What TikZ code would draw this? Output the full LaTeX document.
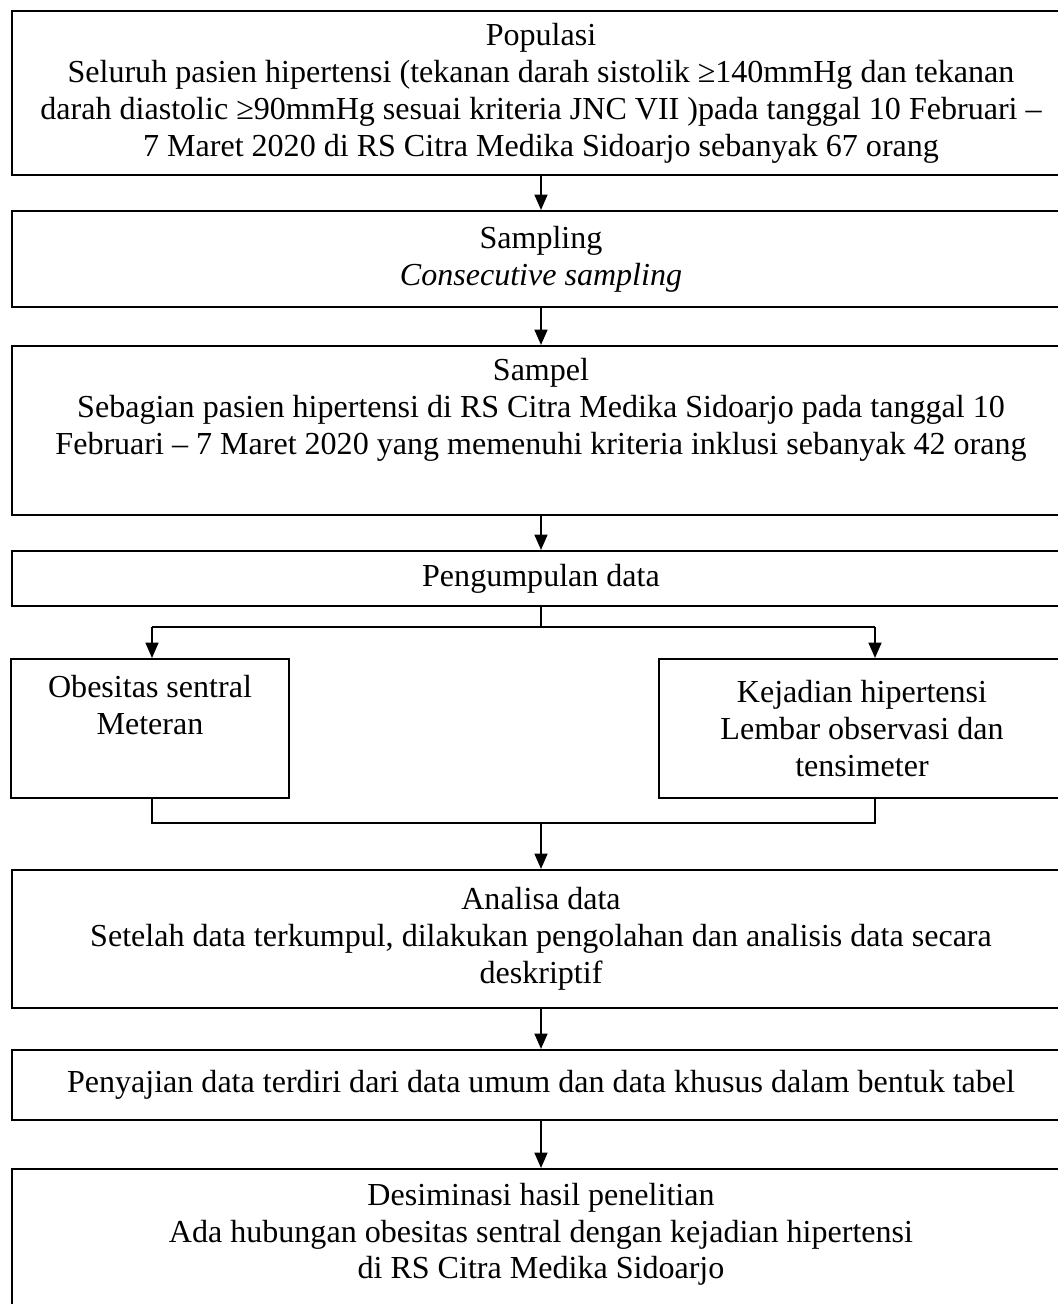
\documentclass[tikz,border=0pt]{standalone}
\usepackage{fontspec}
\setmainfont{Liberation Serif}
\usepackage{tikz}
\usetikzlibrary{arrows.meta}

\tikzset{
  kotak/.style={draw, line width=0.8pt, align=center, inner sep=2pt, anchor=north,
    minimum width=412.6pt, font=\fontsize{12.5}{14.4}\selectfont},
  panah/.style={-{Triangle[length=6pt,width=5pt]}, line width=0.8pt},
  garis/.style={line width=0.8pt}
}

\begin{document}
\begin{tikzpicture}[x=0.39pt,y=-0.39pt]
\useasboundingbox (0,0) rectangle (1057,1304);

\node [kotak, minimum height=64pt] (populasi) at (541,10) {Populasi\\ Seluruh pasien hipertensi (tekanan darah sistolik ≥140mmHg dan tekanan\\ darah diastolic ≥90mmHg sesuai kriteria JNC VII )pada tanggal 10 Februari –\\ 7 Maret 2020 di RS Citra Medika Sidoarjo sebanyak 67 orang};
\node [kotak, minimum height=37.4pt] (sampling) at (541,210) {Sampling\\ \textit{Consecutive sampling}};
\node [kotak, minimum height=65.9pt] (sampel) at (541,345) {Sampel\\ Sebagian pasien hipertensi di RS Citra Medika Sidoarjo pada tanggal 10\\ Februari – 7 Maret 2020 yang memenuhi kriteria inklusi sebanyak 42 orang\\ \strut};
\node [kotak, minimum height=21.5pt] (kumpul) at (541,550) {Pengumpulan data};

\node [kotak, minimum width=108.4pt, minimum height=54.2pt] (obesitas) at (150,658) {Obesitas sentral\\ Meteran\\ \strut};
\node [kotak, minimum width=158.3pt, minimum height=54.2pt] (kejadian) at (862,658) {Kejadian hipertensi\\ Lembar observasi dan\\ tensimeter};

\node [kotak, minimum height=53.8pt] (analisa) at (541,869) {Analisa data\\ Setelah data terkumpul, dilakukan pengolahan dan analisis data secara\\ deskriptif};
\node [kotak, minimum height=27.3pt] (penyajian) at (541,1049) {Penyajian data terdiri dari data umum dan data khusus dalam bentuk tabel};
\node [kotak, minimum height=67pt] (desiminasi) at (541,1168) {Desiminasi hasil penelitian\\ Ada hubungan obesitas sentral dengan kejadian hipertensi\\ di RS Citra Medika Sidoarjo\\ \strut};

\coordinate (cabangL) at (152,627); \coordinate (cabangR) at (875,627);
\coordinate (gabung) at (541,823);

\draw [panah] (populasi) -- (sampling);
\draw [panah] (sampling) -- (sampel);
\draw [panah] (sampel) -- (kumpul);

\draw [line width=0.5pt] (kumpul.south) -- (kumpul.south |- cabangL);
\draw [garis] (cabangL) -- (cabangR);
\draw [panah] (cabangL) -- (cabangL |- obesitas.north);
\draw [panah] (cabangR) -- (cabangR |- kejadian.north);

\draw [garis] (cabangL |- obesitas.south) |- (gabung) -| (cabangR |- kejadian.south);
\draw [panah] (gabung) -- (analisa);

\draw [panah] (analisa) -- (penyajian);
\draw [panah] (penyajian) -- (desiminasi);
\end{tikzpicture}
\end{document}
